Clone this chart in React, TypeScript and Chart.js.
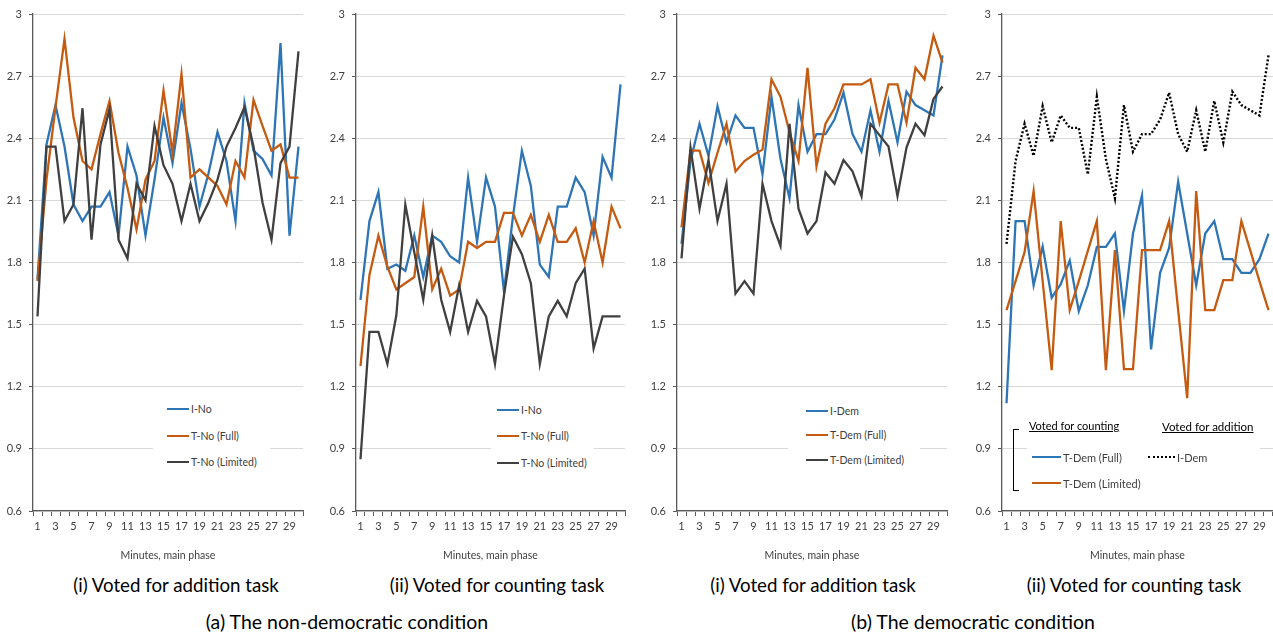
import React, { useEffect, useRef } from 'react';
import { Chart, registerables } from 'chart.js';

Chart.register(...registerables);

const minutes = [1, 2, 3, 4, 5, 6, 7, 8, 9, 10, 11, 12, 13, 14, 15, 16, 17, 18, 19, 20, 21, 22, 23, 24, 25, 26, 27, 28, 29, 30];
const yTicks = [0.6, 0.9, 1.2, 1.5, 1.8, 2.1, 2.4, 2.7, 3];

// (a)(i) non-democratic, voted for addition
const ndAddI = [1.72, 2.37, 2.56, 2.36, 2.08, 2.0, 2.07, 2.07, 2.14, 1.93, 2.36, 2.22, 1.93, 2.2, 2.5, 2.28, 2.57, 2.35, 2.07, 2.23, 2.43, 2.29, 2.0, 2.57, 2.34, 2.3, 2.22, 2.86, 1.93, 2.36];
const ndAddTFull = [1.71, 2.2, 2.55, 2.88, 2.5, 2.29, 2.25, 2.42, 2.58, 2.33, 2.16, 1.96, 2.2, 2.29, 2.63, 2.33, 2.71, 2.21, 2.25, 2.21, 2.17, 2.08, 2.29, 2.21, 2.585, 2.46, 2.34, 2.37, 2.21, 2.21];
const ndAddTLim = [1.54, 2.36, 2.36, 2.0, 2.08, 2.545, 1.91, 2.37, 2.54, 1.91, 1.82, 2.18, 2.1, 2.46, 2.27, 2.18, 2.0, 2.18, 2.0, 2.09, 2.2, 2.36, 2.45, 2.55, 2.36, 2.09, 1.91, 2.28, 2.36, 2.82];

// (a)(ii) non-democratic, voted for counting
const ndCntI = [1.62, 2.0, 2.14, 1.77, 1.79, 1.76, 1.93, 1.73, 1.93, 1.9, 1.83, 1.8, 2.21, 1.9, 2.21, 2.07, 1.66, 2.02, 2.34, 2.17, 1.79, 1.73, 2.07, 2.07, 2.21, 2.14, 1.93, 2.31, 2.21, 2.66];
const ndCntTFull = [1.3, 1.74, 1.93, 1.78, 1.67, 1.7, 1.73, 2.07, 1.67, 1.77, 1.64, 1.67, 1.9, 1.87, 1.9, 1.9, 2.04, 2.04, 1.93, 2.03, 1.9, 2.03, 1.9, 1.9, 1.965, 1.8, 2.0, 1.8, 2.07, 1.965];
const ndCntTLim = [0.85, 1.465, 1.465, 1.31, 1.545, 2.08, 1.85, 1.62, 1.93, 1.62, 1.465, 1.69, 1.465, 1.615, 1.54, 1.31, 1.64, 1.925, 1.84, 1.7, 1.31, 1.54, 1.615, 1.54, 1.7, 1.77, 1.385, 1.54, 1.54, 1.54];

// (b)(i) democratic, voted for addition
const dAddI = [1.89, 2.29, 2.47, 2.315, 2.555, 2.38, 2.51, 2.45, 2.45, 2.225, 2.6, 2.3, 2.11, 2.56, 2.335, 2.42, 2.42, 2.49, 2.62, 2.42, 2.335, 2.535, 2.335, 2.58, 2.38, 2.625, 2.56, 2.535, 2.51, 2.8];
const dAddTFull = [1.97, 2.34, 2.34, 2.185, 2.33, 2.47, 2.24, 2.29, 2.32, 2.345, 2.685, 2.6, 2.43, 2.29, 2.74, 2.265, 2.47, 2.545, 2.66, 2.66, 2.66, 2.685, 2.475, 2.66, 2.66, 2.475, 2.74, 2.685, 2.895, 2.765];
const dAddTLim = [1.82, 2.355, 2.06, 2.295, 2.0, 2.18, 1.65, 1.71, 1.65, 2.18, 2.0, 1.88, 2.47, 2.06, 1.94, 2.0, 2.235, 2.18, 2.295, 2.24, 2.12, 2.47, 2.415, 2.36, 2.12, 2.355, 2.47, 2.415, 2.59, 2.65];

// (b)(ii) democratic, voted for counting (I-Dem is the addition voters' series)
const dCntTFull = [1.12, 2.0, 2.0, 1.69, 1.877, 1.63, 1.695, 1.81, 1.565, 1.69, 1.875, 1.875, 1.94, 1.565, 1.94, 2.124, 1.38, 1.75, 1.87, 2.19, 1.94, 1.69, 1.94, 2.0, 1.816, 1.816, 1.75, 1.75, 1.816, 1.94];
const dCntTLim = [1.57, 1.71, 1.85, 2.145, 1.71, 1.28, 2.0, 1.57, 1.71, 1.856, 2.0, 1.28, 1.86, 1.285, 1.285, 1.86, 1.86, 1.86, 2.0, 1.57, 1.145, 2.145, 1.57, 1.57, 1.715, 1.715, 2.0, 1.856, 1.71, 1.57];

const BLUE = '#2E75B6';
const ORANGE = '#C55A11';
const DARK = '#404040';
const FONT = 'Lato, "Open Sans", sans-serif';
const CANVAS_H = 570;

type Series = { label: string; data: number[]; color: string; dash?: number[]; order: number };

function Panel(props: { left: number; width: number; yWidth: number; padRight: number; series: Series[] }) {
  const ref = useRef<HTMLCanvasElement>(null);
  useEffect(() => {
    const chart = new Chart(ref.current as HTMLCanvasElement, {
      type: 'line',
      data: {
        labels: minutes,
        datasets: props.series.map((s) => ({
          label: s.label,
          data: s.data,
          borderColor: s.color,
          backgroundColor: s.color,
          borderWidth: s.dash ? 2.4 : 2.3,
          borderDash: s.dash || [],
          borderCapStyle: 'butt',
          pointRadius: 0,
          tension: 0,
          fill: false,
          order: s.order,
        })),
      },
      options: {
        responsive: false,
        animation: false,
        events: [],
        layout: { padding: { left: 0, right: props.padRight, top: 14, bottom: 0 } },
        plugins: { legend: { display: false }, tooltip: { enabled: false }, title: { display: false } },
        scales: {
          x: {
            type: 'category',
            offset: true,
            grid: { offset: true, drawOnChartArea: false, drawTicks: true, tickLength: 5, tickColor: '#595959', tickWidth: 1 },
            border: { display: true, color: '#595959', width: 1.3 },
            ticks: {
              autoSkip: false,
              maxRotation: 0,
              minRotation: 0,
              padding: 4,
              color: DARK,
              font: { family: FONT, size: 11 },
              callback: (_v: any, i: number) => (i % 2 === 0 ? String(minutes[i]) : ''),
            },
            title: {
              display: true,
              text: 'Minutes, main phase',
              color: DARK,
              font: { family: FONT, size: 10.5 },
              padding: { top: 0, bottom: 8 },
            },
            afterFit: (s: any) => {
              s.height = CANVAS_H - 511;
              s.paddingLeft = 0;
              s.paddingRight = 0;
            },
          },
          y: {
            min: 0.6,
            max: 3,
            afterBuildTicks: (s: any) => {
              s.ticks = yTicks.map((v) => ({ value: v }));
            },
            ticks: {
              padding: 7,
              color: DARK,
              font: { family: FONT, size: 11 },
              callback: (v: any) => String(Number(Number(v).toFixed(1))),
            },
            grid: { color: '#d9d9d9', lineWidth: 1, tickColor: '#595959', tickLength: 4, drawTicks: true },
            border: { display: true, color: '#595959', width: 1.3 },
            afterFit: (s: any) => {
              s.width = props.yWidth;
              s.paddingTop = 0;
              s.paddingBottom = 0;
            },
          },
        },
      } as any,
    });
    return () => chart.destroy();
  }, []);
  return (
    <canvas
      ref={ref}
      width={props.width}
      height={CANVAS_H}
      style={{ position: 'absolute', left: props.left, top: 0, width: props.width, height: CANVAS_H }}
    />
  );
}

function Item(props: { x: number; y: number; color: string; text: string; dotted?: boolean; sample?: number; size?: number }) {
  const w = props.sample ?? 22;
  return (
    <div
      style={{
        position: 'absolute',
        left: props.x,
        top: props.y - 8,
        height: 16,
        display: 'flex',
        alignItems: 'center',
        font: `${props.size ?? 10.5}px ${FONT}`,
        color: DARK,
        whiteSpace: 'nowrap',
      }}
    >
      <span
        style={{
          display: 'inline-block',
          width: w,
          height: 0,
          borderTop: props.dotted ? '2.5px dotted #000' : `2.5px solid ${props.color}`,
          marginRight: 2,
        }}
      />
      {props.text}
    </div>
  );
}

function Box(props: { left: number; top: number; width: number; height: number }) {
  return (
    <div
      style={{ position: 'absolute', left: props.left, top: props.top, width: props.width, height: props.height, background: '#fff' }}
    />
  );
}

function Caption(props: { cx: number; cy: number; text: string; size: number }) {
  return (
    <div
      style={{
        position: 'absolute',
        left: props.cx - 250,
        width: 500,
        top: props.cy - 12,
        height: 24,
        lineHeight: '24px',
        textAlign: 'center',
        font: `${props.size}px ${FONT}`,
        color: '#000',
        whiteSpace: 'nowrap',
      }}
    >
      {props.text}
    </div>
  );
}

export default function App() {
  return (
    <div style={{ position: 'absolute', left: 0, top: 0, width: 1273, height: 637, background: '#fff', overflow: 'hidden' }}>
      <Panel
        left={0}
        width={310}
        yWidth={33}
        padRight={7}
        series={[
          { label: 'I-No', data: ndAddI, color: BLUE, order: 2 },
          { label: 'T-No (Full)', data: ndAddTFull, color: ORANGE, order: 1 },
          { label: 'T-No (Limited)', data: ndAddTLim, color: DARK, order: 0 },
        ]}
      />
      <Panel
        left={320}
        width={310}
        yWidth={36}
        padRight={5}
        series={[
          { label: 'I-No', data: ndCntI, color: BLUE, order: 2 },
          { label: 'T-No (Full)', data: ndCntTFull, color: ORANGE, order: 1 },
          { label: 'T-No (Limited)', data: ndCntTLim, color: DARK, order: 0 },
        ]}
      />
      <Panel
        left={640}
        width={312}
        yWidth={37}
        padRight={5}
        series={[
          { label: 'I-Dem', data: dAddI, color: BLUE, order: 2 },
          { label: 'T-Dem (Full)', data: dAddTFull, color: ORANGE, order: 1 },
          { label: 'T-Dem (Limited)', data: dAddTLim, color: DARK, order: 0 },
        ]}
      />
      <Panel
        left={965}
        width={308}
        yWidth={37}
        padRight={0}
        series={[
          { label: 'T-Dem (Full)', data: dCntTFull, color: BLUE, order: 2 },
          { label: 'T-Dem (Limited)', data: dCntTLim, color: ORANGE, order: 1 },
          { label: 'I-Dem', data: dAddI, color: '#000', dash: [2, 2], order: 0 },
        ]}
      />

      {/* Legend panel 1 */}
      <Box left={153} top={398} width={117} height={76} />
      <Item x={167} y={409} color={BLUE} text="I-No" />
      <Item x={167} y={436} color={ORANGE} text="T-No (Full)" />
      <Item x={167} y={462} color={DARK} text="T-No (Limited)" />

      {/* Legend panel 2 */}
      <Box left={491} top={398} width={103} height={76} />
      <Item x={497} y={410} color={BLUE} text="I-No" />
      <Item x={497} y={436} color={ORANGE} text="T-No (Full)" />
      <Item x={497} y={463} color={DARK} text="T-No (Limited)" />

      {/* Legend panel 3 */}
      <Box left={788} top={398} width={132} height={76} />
      <Item x={806} y={411} color={BLUE} text="I-Dem" />
      <Item x={806} y={435} color={ORANGE} text="T-Dem (Full)" />
      <Item x={806} y={460} color={DARK} text="T-Dem (Limited)" />

      {/* Legend panel 4 */}
      <Box left={1027} top={415} width={233} height={80} />
      <div
        style={{
          position: 'absolute',
          left: 1013,
          top: 429,
          width: 5,
          height: 60,
          borderLeft: '1px solid #000',
          borderTop: '1px solid #000',
          borderBottom: '1px solid #000',
        }}
      />
      <div style={{ position: 'absolute', left: 1029, top: 419, font: `11px ${FONT}`, color: '#000', textDecoration: 'underline', whiteSpace: 'nowrap' }}>
        Voted for counting
      </div>
      <div style={{ position: 'absolute', left: 1162, top: 420, font: `11.5px ${FONT}`, color: '#000', textDecoration: 'underline', whiteSpace: 'nowrap' }}>
        Voted for addition
      </div>
      <Item x={1032} y={457} color={BLUE} text="T-Dem (Full)" sample={29} size={11} />
      <Item x={1148} y={457} color="#000" text="I-Dem" dotted sample={27} size={11} />
      <Item x={1032} y={483} color={ORANGE} text="T-Dem (Limited)" sample={29} size={11} />

      <Caption cx={176} cy={586} text="(i) Voted for addition task" size={18.7} />
      <Caption cx={497} cy={586} text="(ii) Voted for counting task" size={18.7} />
      <Caption cx={813} cy={586} text="(i) Voted for addition task" size={18.7} />
      <Caption cx={1134} cy={586} text="(ii) Voted for counting task" size={18.7} />
      <Caption cx={347} cy={622} text="(a) The non-democratic condition" size={19.5} />
      <Caption cx={973} cy={622} text="(b) The democratic condition" size={19.5} />
    </div>
  );
}
